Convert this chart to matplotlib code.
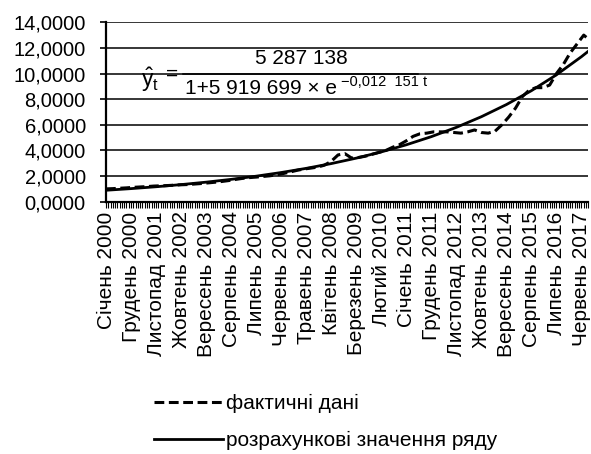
import matplotlib
matplotlib.use("Agg")
import matplotlib.pyplot as plt
from matplotlib.lines import Line2D

plt.rcParams['font.family'] = ['Liberation Sans', 'DejaVu Sans']
plt.rcParams['mathtext.fontset'] = 'custom'
plt.rcParams['mathtext.rm'] = 'Liberation Sans'
plt.rcParams['mathtext.it'] = 'Liberation Sans'

# місяці для підписів осі X
months = ["Січень", "Лютий", "Березень", "Квітень", "Травень", "Червень",
          "Липень", "Серпень", "Вересень", "Жовтень", "Листопад", "Грудень"]
start_year = 2000
n_months = 213          # січень 2000 - вересень 2017
label_step = 11

# фактичні дані (кожні 3 місяці)
fact_idx = [0, 3, 6, 9, 12, 15, 18, 21, 24, 27, 30, 33, 36, 39, 42, 45, 48, 51,
            54, 57, 60, 63, 66, 69, 72, 75, 78, 81, 84, 87, 90, 93, 96, 99, 102,
            105, 108, 111, 114, 117, 120, 123, 126, 129, 132, 135, 138, 141, 144,
            147, 150, 153, 156, 159, 162, 165, 168, 171, 174, 177, 180, 183, 186,
            189, 192, 195, 198, 201, 204, 207, 210, 212]
fact_vals = [1.00, 1.02, 1.05, 1.08, 1.12, 1.15, 1.18, 1.22, 1.24, 1.26, 1.29, 1.32,
             1.34, 1.38, 1.42, 1.47, 1.52, 1.58, 1.65, 1.74, 1.82, 1.88, 1.92, 1.97,
             2.02, 2.10, 2.20, 2.32, 2.45, 2.55, 2.62, 2.70, 2.85, 3.15, 3.65, 3.75,
             3.40, 3.45, 3.55, 3.70, 3.85, 4.00, 4.25, 4.45, 4.75, 5.10, 5.30, 5.35,
             5.45, 5.45, 5.45, 5.40, 5.35, 5.45, 5.60, 5.40, 5.35, 5.50, 6.00, 6.60,
             7.30, 8.20, 8.70, 8.90, 8.90, 9.10, 10.00, 10.70, 11.60, 12.30, 13.00, 12.70]

# розрахункові значення (логістична крива з графіка)
trend_idx = [0, 11, 22, 33, 44, 55, 66, 77, 88, 99, 110, 121, 132, 143, 154,
             165, 176, 187, 198, 209, 212]
trend_vals = [0.8931, 1.0208, 1.1668, 1.3337, 1.5244, 1.7424, 1.9916, 2.2764,
              2.6019, 2.9740, 3.3993, 3.8854, 4.4410, 5.0761, 5.8020, 6.6317,
              7.5800, 8.6639, 9.9028, 11.3189, 11.74]

W, H = 591, 454
fig = plt.figure(figsize=(W / 100, H / 100), dpi=100)
ax = fig.add_axes([106 / W, 1 - 201.7 / H, (588.3 - 106) / W, (201.7 - 22.3) / H])

ax.plot(fact_idx, fact_vals, color="black", lw=2.2, linestyle=(0, (3.2, 1.5)),
        label="фактичні дані")
ax.plot(trend_idx, trend_vals, color="black", lw=2.0, label="розрахункові значення ряду")

ax.set_xlim(0, n_months - 1)
ax.set_ylim(0, 14)
ax.set_yticks(range(0, 15, 2))
ax.set_yticklabels([f"{v:.4f}".replace(".", ",") for v in range(0, 15, 2)])
ax.grid(axis="y", color="black", lw=1.1)
ax.set_axisbelow(True)

labels = [f"{months[i % 12]} {start_year + i // 12}" for i in range(n_months)]
major = list(range(0, n_months, label_step))
ax.set_xticks(major)
ax.set_xticklabels([labels[i] for i in major], rotation=90)
ax.set_xticks(range(n_months), minor=True)
ax.tick_params(axis="x", which="both", direction="out", length=4, width=0.8,
               labelsize=15, pad=3)
ax.tick_params(axis="y", direction="out", length=4.5, width=1.2, labelsize=14.5, pad=10)

for s in ["top", "right"]:
    ax.spines[s].set_visible(False)
ax.spines["left"].set_linewidth(1.6)
ax.spines["bottom"].set_linewidth(1.6)

# рівняння тренду
fig.text(141 / W, 1 - 80 / H, r"$\hat{y}_t$", fontsize=16.5, va="center")
fig.text(166 / W, 1 - 74 / H, "=", fontsize=15, va="center")
fig.text(301 / W, 1 - 59 / H, "5 287 138", fontsize=15, ha="center", va="center")
fig.add_artist(Line2D([183 / W, 418 / W], [1 - 73.5 / H, 1 - 73.5 / H],
                      color="black", lw=1.1))
fig.text(185 / W, 1 - 89 / H, "1+5 919 699 × e", fontsize=15, va="center")
fig.text(341 / W, 1 - 82 / H, "−0,012  151 t", fontsize=10.5, va="center")

fig.legend(loc="upper left", bbox_to_anchor=(146 / W, 1 - 386 / H), frameon=False,
           fontsize=15, handlelength=3.3, handletextpad=0.15, labelspacing=0.85,
           borderaxespad=0)

fig.savefig("out.png", dpi=100)
